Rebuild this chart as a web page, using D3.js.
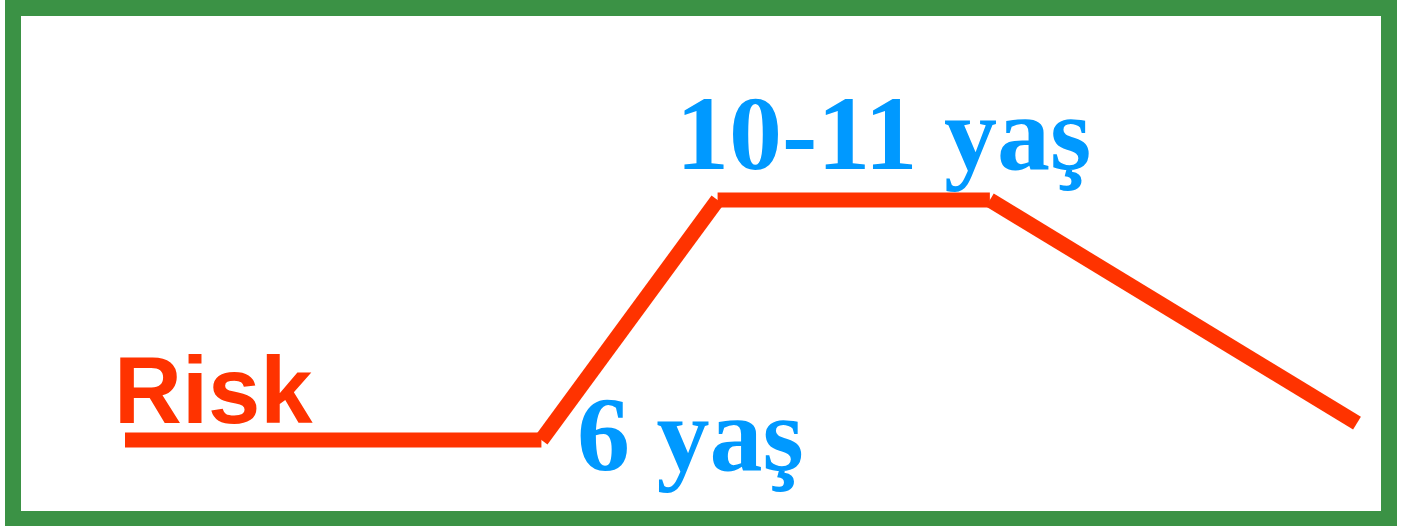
<!DOCTYPE html>
<html>
<head>
<meta charset="utf-8">
<script src="https://cdn.jsdelivr.net/npm/d3@7"></script>
<style>
  html, body { margin: 0; padding: 0; background: #fff; }
  svg { display: block; }
</style>
</head>
<body>
<svg id="chart" width="1403" height="526"></svg>
<script>
// Risk curve: position along the age axis (arbitrary units) and risk level
const agePos = [0, 33.8, 48.1, 70.2, 100];
const riskValues = [0, 0, 10, 10, 0.7];
const labels = ["Risk", "6 yaş", "10-11 yaş"];

const svg = d3.select("#chart");

// Frame
svg.append("rect")
    .attr("x", 13).attr("y", 8)
    .attr("width", 1376).attr("height", 511)
    .attr("fill", "#fff")
    .attr("stroke", "#3b9245")
    .attr("stroke-width", 16);

const x = d3.scaleLinear().domain([0, 100]).range([125, 1357]);
const y = d3.scaleLinear().domain([0, 10]).range([440, 200]);

const pts = agePos.map((a, i) => ({ x: a, r: riskValues[i] }));
const segs = d3.pairs(pts);

// Each segment drawn on its own, butt ends, like the original
svg.append("g").selectAll("line")
    .data(segs)
    .enter().append("line")
    .attr("x1", d => x(d[0].x)).attr("y1", d => y(d[0].r))
    .attr("x2", d => x(d[1].x)).attr("y2", d => y(d[1].r))
    .attr("stroke", "#ff3300")
    .attr("stroke-width", 15)
    .attr("stroke-linecap", "butt");

// Labels
svg.append("text")
    .attr("x", 114).attr("y", 423)
    .attr("font-family", "Liberation Sans, Arial, sans-serif")
    .attr("font-weight", "bold")
    .attr("font-size", 94)
    .attr("fill", "#ff3300")
    .text(labels[0]);

svg.append("text")
    .attr("x", 577).attr("y", 470)
    .attr("font-family", "Liberation Serif, Times New Roman, serif")
    .attr("font-weight", "bold")
    .attr("font-size", 106)
    .attr("fill", "#0099ff")
    .text(labels[1]);

svg.append("text")
    .attr("x", 676).attr("y", 169)
    .attr("font-family", "Liberation Serif, Times New Roman, serif")
    .attr("font-weight", "bold")
    .attr("font-size", 106)
    .attr("fill", "#0099ff")
    .text(labels[2]);
</script>
</body>
</html>
